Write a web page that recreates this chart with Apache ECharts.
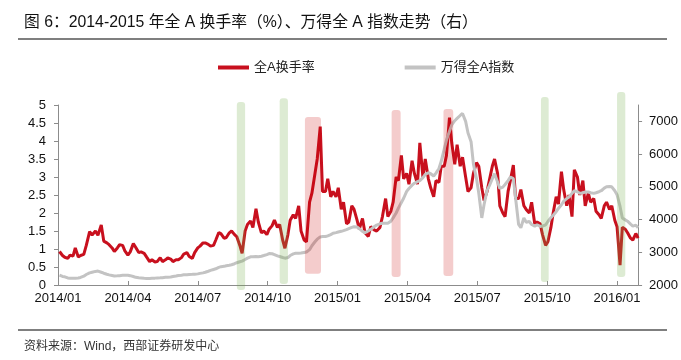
<!DOCTYPE html>
<html>
<head>
<meta charset="utf-8">
<script src="https://cdn.jsdelivr.net/npm/echarts@6/dist/echarts.min.js"></script>
<style>
html,body{margin:0;padding:0;background:#fff;}
#chart{width:681px;height:360px;}
</style>
</head>
<body>
<div id="chart"></div>
<script>
// ---- data (sampled twice a week: Tue / Fri) ----
const dates = [
'2014-01-03',
'2014-01-07','2014-01-10','2014-01-14','2014-01-17','2014-01-21','2014-01-24','2014-01-28','2014-01-31',
'2014-02-04','2014-02-07','2014-02-11','2014-02-14','2014-02-18','2014-02-21','2014-02-25','2014-02-28',
'2014-03-04','2014-03-07','2014-03-11','2014-03-14','2014-03-18','2014-03-21','2014-03-25','2014-03-28',
'2014-04-01','2014-04-04','2014-04-08','2014-04-11','2014-04-15','2014-04-18','2014-04-22','2014-04-25',
'2014-04-29','2014-05-02','2014-05-06','2014-05-09','2014-05-13','2014-05-16','2014-05-20','2014-05-23','2014-05-27','2014-05-30',
'2014-06-03','2014-06-06','2014-06-10','2014-06-13','2014-06-17','2014-06-20','2014-06-24','2014-06-27',
'2014-07-01','2014-07-04','2014-07-08','2014-07-11','2014-07-15','2014-07-18','2014-07-22','2014-07-25',
'2014-07-29','2014-08-01','2014-08-05','2014-08-08','2014-08-12','2014-08-15','2014-08-19','2014-08-22','2014-08-26','2014-08-29',
'2014-09-02','2014-09-05','2014-09-09','2014-09-12','2014-09-16','2014-09-19','2014-09-23','2014-09-26',
'2014-09-30','2014-10-03','2014-10-07','2014-10-10','2014-10-14','2014-10-17','2014-10-21','2014-10-24','2014-10-28','2014-10-31',
'2014-11-04','2014-11-07','2014-11-11','2014-11-14','2014-11-18','2014-11-21','2014-11-25','2014-11-28',
'2014-12-02','2014-12-05','2014-12-09','2014-12-12','2014-12-16','2014-12-19','2014-12-23','2014-12-26',
'2014-12-30','2015-01-02','2015-01-06','2015-01-09','2015-01-13','2015-01-16','2015-01-20','2015-01-23','2015-01-27','2015-01-30',
'2015-02-03','2015-02-06','2015-02-10','2015-02-13','2015-02-17','2015-02-20','2015-02-24','2015-02-27',
'2015-03-03','2015-03-06','2015-03-10','2015-03-13','2015-03-17','2015-03-20','2015-03-24','2015-03-27',
'2015-03-31','2015-04-03','2015-04-07','2015-04-10','2015-04-14','2015-04-17','2015-04-21','2015-04-24',
'2015-04-28','2015-05-01','2015-05-05','2015-05-08','2015-05-12','2015-05-15','2015-05-19','2015-05-22','2015-05-26','2015-05-29',
'2015-06-02','2015-06-05','2015-06-09','2015-06-12','2015-06-16','2015-06-19','2015-06-23','2015-06-26',
'2015-06-30','2015-07-03','2015-07-07','2015-07-10','2015-07-14','2015-07-17','2015-07-21','2015-07-24','2015-07-28','2015-07-31',
'2015-08-04','2015-08-07','2015-08-11','2015-08-14','2015-08-18','2015-08-21','2015-08-25','2015-08-28',
'2015-09-01','2015-09-04','2015-09-08','2015-09-11','2015-09-15','2015-09-18','2015-09-22','2015-09-25',
'2015-09-29','2015-10-02','2015-10-06','2015-10-09','2015-10-13','2015-10-16','2015-10-20','2015-10-23','2015-10-27','2015-10-30',
'2015-11-03','2015-11-06','2015-11-10','2015-11-13','2015-11-17','2015-11-20','2015-11-24','2015-11-27',
'2015-12-01','2015-12-04','2015-12-08','2015-12-11','2015-12-15','2015-12-18','2015-12-22','2015-12-25',
'2015-12-29','2016-01-01','2016-01-05','2016-01-08','2016-01-12','2016-01-15','2016-01-19','2016-01-22','2016-01-26','2016-01-29'
];
// 全A换手率 (%)
const turnover = [
0.93,
0.82,0.77,0.74,0.83,0.80,1.03,0.78,0.82,
0.85,1.10,1.48,1.39,1.50,1.38,1.67,1.22,
1.17,1.12,1.03,0.93,1.03,1.12,1.10,0.95,
0.83,0.92,1.15,1.05,0.90,0.92,0.88,0.78,
0.65,0.70,0.64,0.65,0.76,0.65,0.70,0.75,0.72,0.65,
0.70,0.70,0.76,0.86,0.90,0.79,0.74,0.90,
1.03,1.08,1.17,1.17,1.13,1.08,1.10,1.25,
1.46,1.42,1.30,1.32,1.45,1.50,1.40,1.34,1.10,0.88,
1.50,1.68,1.78,1.60,2.12,1.75,1.45,1.50,
1.40,1.55,1.65,1.80,1.60,1.68,1.25,1.02,1.40,1.80,
1.95,1.85,2.20,1.50,1.25,1.20,2.30,2.55,
3.10,3.50,4.40,2.60,2.60,2.95,2.45,2.60,
2.45,2.70,2.10,2.30,1.70,1.75,2.20,2.10,1.80,1.55,
1.85,1.45,1.35,1.62,1.53,1.50,1.60,1.90,
2.40,1.90,2.05,2.30,3.00,2.90,3.60,2.95,
3.10,2.80,3.45,3.10,2.80,3.95,3.00,3.50,
2.95,2.70,2.45,2.90,2.85,3.30,3.30,3.60,4.65,3.95,
3.35,3.90,3.30,3.55,3.00,2.60,2.70,3.10,
3.40,3.30,2.70,2.35,2.60,2.90,3.30,3.50,3.10,2.20,
2.00,1.90,2.60,2.90,3.33,2.40,2.40,2.65,
2.20,2.10,2.00,2.30,1.70,1.75,1.70,1.40,
1.10,1.20,1.60,2.00,2.45,2.25,3.15,2.65,2.20,2.50,
1.90,3.20,3.00,2.50,2.90,2.20,2.55,2.30,
2.40,2.05,1.95,1.85,2.20,2.30,2.10,2.20,
1.80,1.62,0.55,1.60,1.55,1.45,1.30,1.25,1.43,1.30
];
// 万得全A指数 (右轴)
const windA = [
2300,
2260,2250,2215,2205,2205,2210,2215,2230,
2270,2320,2370,2390,2415,2425,2390,2360,
2330,2310,2290,2275,2280,2285,2295,2300,
2300,2285,2260,2235,2220,2215,2205,2200,
2200,2205,2210,2215,2220,2225,2235,2240,2245,2260,
2275,2290,2300,2310,2315,2320,2325,2330,
2340,2355,2370,2390,2420,2445,2475,2495,
2540,2560,2570,2590,2605,2620,2650,2680,2710,2730,
2780,2820,2860,2865,2870,2865,2880,2900,
2930,2960,2955,2930,2890,2870,2840,2820,2840,2900,
2950,2968,2970,2975,2995,3010,3080,3200,
3320,3400,3470,3480,3480,3500,3540,3580,
3600,3620,3640,3660,3690,3720,3760,3780,3770,3720,
3640,3600,3650,3700,3780,3830,3870,3885,
3885,3885,3950,4050,4200,4350,4520,4650,
4860,4950,5050,5110,5160,5190,5280,5380,
5430,5400,5330,5420,5560,5780,6150,6430,6700,6890,
7020,7090,7180,7240,7000,6650,6380,5700,
5250,4800,4050,4450,4890,5030,5250,5400,5150,4950,
4990,5070,5190,5300,5250,4650,3850,3750,
4050,3920,3940,3850,3800,3840,3790,3800,
3840,3940,4060,4130,4240,4340,4450,4560,4640,4690,
4800,4880,4850,4800,4820,4840,4840,4820,
4800,4820,4850,4880,4960,5000,5010,5000,
4880,4760,4400,4050,3990,3950,3860,3800,3830,3750
];
const xTickLabels = ['2014/01','2014/04','2014/07','2014/10','2015/01','2015/04','2015/07','2015/10','2016/01'];
const seriesNames = ['全A换手率','万得全A指数'];
// highlighted periods: [start, end, kind]
const bandPeriods = [
['2014-08-22','2014-09-02','green'],
['2014-10-17','2014-10-28','green'],
['2014-11-19','2014-12-10','red'],
['2015-03-11','2015-03-23','red'],
['2015-05-18','2015-05-31','red'],
['2015-09-23','2015-10-03','green'],
['2016-01-01','2016-01-12','green']
];

// ---- rendering config ----
const bandExtent = [[5.08,-0.14],[5.19,0.03],[4.67,0.31],[4.86,0.22],[4.89,0.25],[5.22,0.08],[5.36,0.22]];
const bandFill = {green:'rgba(112,173,71,0.24)', red:'rgba(200,0,0,0.2)'};

function toM(s){
  const p = s.split('-').map(Number);
  const dim = new Date(p[0], p[1], 0).getDate();
  return (p[0]-2014)*12 + (p[1]-1) + (p[2]-1)/dim;
}
const xs = dates.map(toM);
const redData = xs.map((x,i)=>[x, turnover[i]]);
const grayData = xs.map((x,i)=>[x, windA[i]]);
const bandData = bandPeriods.map((b,i)=>[toM(b[0]), toM(b[1]), bandExtent[i][0], bandExtent[i][1], b[2]==='green'?0:1]);

const FONT = '"Liberation Sans", Arial, "Noto Sans CJK SC", sans-serif';
const axisColor = '#8c8c8c';
const chart = echarts.init(document.getElementById('chart'), null, {renderer:'canvas'});
chart.setOption({
  animation:false,
  backgroundColor:'#fff',
  textStyle:{fontFamily:FONT},
  title:[
    {text:'图 6：2014-2015 年全 A 换手率（%）、万得全 A 指数走势（右）', left:19, top:10,
     textStyle:{fontSize:15.8, fontWeight:'normal', color:'#111', fontFamily:FONT}},
    {text:'资料来源：Wind，西部证券研发中心', left:19, top:336,
     textStyle:{fontSize:12, fontWeight:'normal', color:'#333', fontFamily:FONT}}
  ],
  graphic:[
    {type:'line', shape:{x1:18,y1:39,x2:667,y2:39}, style:{stroke:'#555', lineWidth:1.5}},
    {type:'line', shape:{x1:18,y1:330,x2:667,y2:330}, style:{stroke:'#555', lineWidth:1.5}}
  ],
  legend:{
    data:seriesNames, left:213, top:56, icon:'rect', itemWidth:31, itemHeight:4, itemGap:90,
    textStyle:{fontSize:13, color:'#222', fontFamily:FONT}
  },
  grid:{left:58, right:42, top:105, bottom:75, containLabel:false},
  xAxis:{
    type:'value', min:0, max:toM('2016-01-29'), interval:3,
    axisLine:{show:true, lineStyle:{color:axisColor, width:1}},
    axisTick:{show:true, inside:true, length:4, lineStyle:{color:axisColor}, customValues:[0,3,6,9,12,15,18,21,24]},
    axisLabel:{margin:7, fontSize:13, color:'#111', customValues:[0,3,6,9,12,15,18,21,24],
      formatter:function(v){const i=Math.round(v/3); return (Math.abs(v-i*3)<1e-6 && xTickLabels[i])?xTickLabels[i]:'';}},
    splitLine:{show:false}
  },
  yAxis:[
    {type:'value', min:0, max:5, interval:0.5,
     axisLine:{show:true, lineStyle:{color:axisColor}},
     axisTick:{show:true, length:4, lineStyle:{color:axisColor}},
     axisLabel:{margin:12, fontSize:13, color:'#111'},
     splitLine:{show:false}},
    {type:'value', min:2000, max:7500, interval:1000, position:'right',
     axisLine:{show:true, lineStyle:{color:axisColor}},
     axisTick:{show:true, length:4, lineStyle:{color:axisColor}, customValues:[2000,3000,4000,5000,6000,7000]},
     axisLabel:{margin:11, fontSize:13, color:'#111', customValues:[2000,3000,4000,5000,6000,7000],
       formatter:function(v){return v>7000?'':String(v);}},
     splitLine:{show:false}}
  ],
  series:[
    {name:seriesNames[0], type:'line', data:redData, yAxisIndex:0, showSymbol:false, symbol:'none',
     color:'#C8101E', lineStyle:{color:'#C8101E', width:3}, z:2, silent:true},
    {name:seriesNames[1], type:'line', data:grayData, yAxisIndex:1, showSymbol:false, symbol:'none',
     color:'#C3C3C3', lineStyle:{color:'#C3C3C3', width:3}, z:3, silent:true},
    {name:'bands', type:'custom', xAxisIndex:0, yAxisIndex:0, clip:false, z:4, silent:true,
     data:bandData,
     renderItem:function(params, api){
       const p0 = api.coord([api.value(0), api.value(2)]);
       const p1 = api.coord([api.value(1), api.value(3)]);
       const fill = api.value(4)===0 ? bandFill.green : bandFill.red;
       return {type:'rect', shape:{x:p0[0], y:p0[1], width:p1[0]-p0[0], height:p1[1]-p0[1], r:3}, style:{fill:fill}};
     }}
  ]
});
</script>
</body>
</html>
